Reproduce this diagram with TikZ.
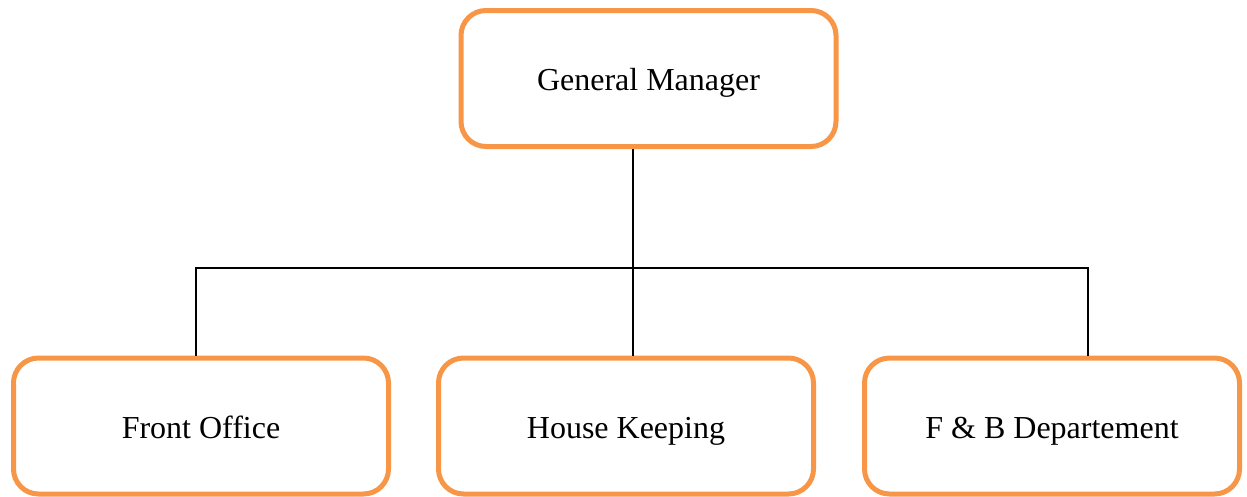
\documentclass[tikz,border=0pt]{standalone}
\usepackage{fontspec}
\setmainfont{Liberation Serif}
\definecolor{boxorange}{HTML}{F79646}
\begin{document}
\begin{tikzpicture}[x=1pt,y=-1pt,line width=2pt]
    \tikzstyle{every node}=[font=\fontsize{32}{38}\selectfont]
    \tikzstyle{unit}=[draw=boxorange,line width=5pt,rounded corners=25pt,
        minimum width=375pt,minimum height=136pt,inner sep=0pt,
        text height=27pt,text depth=3pt]
    \useasboundingbox (0,0) rectangle (1247,496);

    % Draw the top node
    \node[unit] (gm) at (648.5,78.5) {General Manager};

    % Draw the department nodes
    \foreach \name / \x / \txt in {fo/201/{Front Office},hk/626/{House Keeping},fb/1052/{F \& B Departement}}
        \node[unit] (\name) at (\x,426) {\txt};

    % Points where the lines meet the bar
    \coordinate (bar-l) at (196,268);
    \coordinate (bar-m) at (633,268);
    \coordinate (bar-r) at (1088,268);

    % Connect the manager with the departments
    \draw (gm.south -| bar-m) -- (hk.north -| bar-m);
    \draw (fo.north -| bar-l) -- (bar-l) -- (bar-r) -- (fb.north -| bar-r);
\end{tikzpicture}
\end{document}
